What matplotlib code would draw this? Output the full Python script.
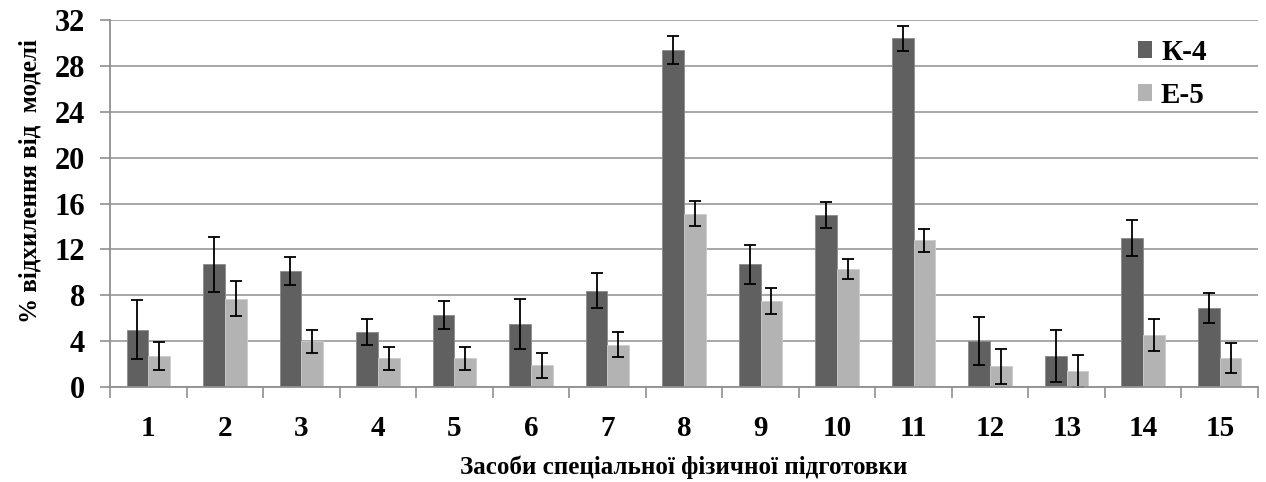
import matplotlib.pyplot as plt
import numpy as np

# засоби спеціальної фізичної підготовки
means = [str(i) for i in range(1, 16)]
k4 = [5.0, 10.7, 10.1, 4.8, 6.3, 5.5, 8.4, 29.4, 10.7, 15.0, 30.4, 4.0, 2.7, 13.0, 6.9]
k4_err = [2.6, 2.4, 1.2, 1.1, 1.2, 2.2, 1.5, 1.2, 1.7, 1.1, 1.1, 2.1, 2.3, 1.6, 1.3]
e5 = [2.7, 7.7, 4.0, 2.5, 2.5, 1.9, 3.7, 15.1, 7.5, 10.3, 12.8, 1.8, 1.4, 4.5, 2.5]
e5_err = [1.2, 1.5, 1.0, 1.0, 1.0, 1.1, 1.1, 1.1, 1.1, 0.9, 1.0, 1.5, 1.4, 1.4, 1.3]
yticks = [0, 4, 8, 12, 16, 20, 24, 28, 32]

plt.rcParams['font.family'] = ['Liberation Serif', 'DejaVu Serif']
plt.rcParams['font.weight'] = 'bold'

fig = plt.figure(figsize=(12.66, 4.82), dpi=100)
ax = fig.add_axes([0.0869, 0.1971, 0.9068, 0.7614])

x = np.arange(1, len(means) + 1)
w = 0.284
err_kw = dict(ecolor='black', elinewidth=1.3, capsize=4, capthick=1.3)

ax.bar(x - w / 2, k4, w, yerr=k4_err, color='#606060', edgecolor='#8a8a8a',
       linewidth=0.6, label='К-4', error_kw=err_kw, zorder=2)
ax.bar(x + w / 2, e5, w, yerr=e5_err, color='#b3b3b3', edgecolor='#cccccc',
       linewidth=0.6, label='Е-5', error_kw=err_kw, zorder=2)

ax.set_xlim(0.5, len(means) + 0.5)
ax.set_ylim(0, 32)
ax.set_yticks(yticks)
ax.set_yticklabels([str(v) for v in yticks], fontsize=22, fontweight='bold')

# ticks at group boundaries, labels at group centres
ax.set_xticks(np.arange(0.5, len(means) + 1, 1))
ax.set_xticklabels([])
ax.set_xticks(x, minor=True)
ax.set_xticklabels(means, minor=True, fontsize=21, fontweight='bold')
ax.tick_params(axis='x', which='minor', length=0, pad=20)
ax.tick_params(axis='x', which='major', length=8, width=1.2, color='#909090')
ax.tick_params(axis='y', length=7, width=1.2, color='#909090', pad=11)

ax.yaxis.grid(True, color='#a0a0a0', linewidth=1.3, zorder=0)
ax.set_axisbelow(True)
for side in ['top', 'right']:
    ax.spines[side].set_visible(False)
for side in ['left', 'bottom']:
    ax.spines[side].set_color('#909090')
    ax.spines[side].set_linewidth(1.3)

ax.set_xlabel('Засоби спеціальної фізичної підготовки', fontsize=18,
              fontweight='bold', labelpad=10)
ax.set_ylabel('% відхилення від  моделі', fontsize=18, fontweight='bold')
ax.yaxis.set_label_coords(-0.06, 0.56)

leg = ax.legend(loc='upper right', bbox_to_anchor=(0.978, 1.02), frameon=False,
                fontsize=21, handlelength=0.5, handleheight=0.5,
                handletextpad=0.3, labelspacing=0.55)
for h in leg.legend_handles:
    h.set_edgecolor('none')

fig.savefig('out.png', dpi=100)
